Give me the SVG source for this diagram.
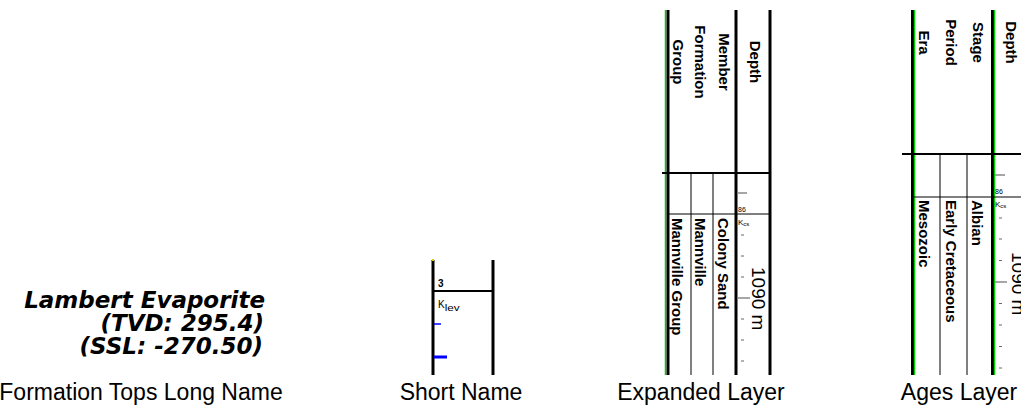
<svg xmlns="http://www.w3.org/2000/svg" width="1021" height="409" viewBox="0 0 1021 409">
<style>
text{font-family:"Liberation Sans",Arial,sans-serif;fill:#000}
.cap{font-size:23px;text-anchor:middle}
.hdr{font-size:15px;font-weight:bold}
.big{font-size:19px}
.tiny{font-size:7px}
.sm{font-size:10px}
.ft{font-family:"DejaVu Sans",Verdana,sans-serif;font-size:23px;font-weight:bold;font-style:italic;text-anchor:end}
.thick{stroke:#000;stroke-width:3}
.mid{stroke:#000;stroke-width:2}
.green{stroke:#00d000;stroke-width:1.5}
.thin{stroke:#000;stroke-width:1}
.tick{stroke:#888;stroke-width:1.5}
.minor{stroke:#666;stroke-width:1}
.ma{text-anchor:middle}
</style>
<rect width="1021" height="409" fill="#fff"/>

<g id="formation-tops-long-name">
  <text class="ft" x="265" y="308">Lambert Evaporite</text>
  <text class="ft" x="264" y="331">(TVD: 295.4)</text>
  <text class="ft" x="263" y="354">(SSL: -270.50)</text>
  <text class="cap" x="141" y="400">Formation Tops Long Name</text>
</g>

<g id="short-name">
  <line class="thick" x1="433" y1="260" x2="433" y2="375"/>
  <line class="thick" x1="493" y1="260" x2="493" y2="375"/>
  <line class="mid" x1="433" y1="291" x2="493" y2="291"/>
  <rect x="432" y="259" width="2" height="2" fill="#e0d000"/>
  <text class="sm" x="438" y="287" font-weight="bold">3</text>
  <text class="sm" x="438" y="308">K<tspan font-size="9" dy="3" textLength="15" lengthAdjust="spacingAndGlyphs">lev</tspan></text>
  <line stroke="#0000ff" stroke-width="1.5" x1="434" y1="324" x2="441" y2="324"/>
  <line stroke="#0000ff" stroke-width="3" x1="434" y1="357" x2="447" y2="357"/>
  <text class="cap" x="461" y="400">Short Name</text>
</g>

<g id="expanded-layer">
  <line class="green" x1="665.5" y1="10" x2="665.5" y2="375"/>
  <line class="thick" x1="668" y1="10" x2="668" y2="375"/>
  <line class="thick" x1="736" y1="10" x2="736" y2="375"/>
  <line class="thick" x1="770" y1="10" x2="770" y2="375"/>
  <line class="mid" x1="662" y1="173" x2="771" y2="173"/>
  <line class="thin" x1="691" y1="173" x2="691" y2="375"/>
  <line class="thin" x1="713" y1="173" x2="713" y2="375"/>
  <line class="thin" x1="668" y1="214" x2="770" y2="214"/>
  <text class="hdr ma" transform="translate(673,62) rotate(90)">Group</text>
  <text class="hdr ma" transform="translate(695,62) rotate(90)">Formation</text>
  <text class="hdr ma" transform="translate(718.5,62) rotate(90)">Member</text>
  <text class="hdr ma" transform="translate(750,62) rotate(90)">Depth</text>
  <text class="hdr" transform="translate(672,218) rotate(90)">Mannville Group</text>
  <text class="hdr" transform="translate(694.5,218) rotate(90)">Mannville</text>
  <text class="hdr" transform="translate(718,218) rotate(90)">Colony Sand</text>
  <text class="big" transform="translate(752,267) rotate(90)">1090 m</text>
  <text class="tiny" x="738" y="212">86</text>
  <text class="tiny" x="738" y="225"><tspan font-size="8">K</tspan><tspan font-size="6" dy="1">cs</tspan></text>
  <line class="tick" x1="737" y1="193" x2="747" y2="193"/>
  <line class="tick" x1="737" y1="298" x2="750" y2="298"/>
  <g class="minor">
    <line x1="741" y1="235" x2="744" y2="235"/>
    <line x1="741" y1="256" x2="744" y2="256"/>
    <line x1="741" y1="277" x2="744" y2="277"/>
    <line x1="741" y1="319" x2="744" y2="319"/>
    <line x1="741" y1="340" x2="744" y2="340"/>
    <line x1="741" y1="361" x2="744" y2="361"/>
  </g>
  <text class="cap" x="701" y="400">Expanded Layer</text>
</g>

<g id="ages-layer">
  <line class="thick" x1="912.5" y1="10" x2="912.5" y2="375"/>
  <line class="green" x1="914.5" y1="10" x2="914.5" y2="375"/>
  <line class="thick" x1="992.5" y1="10" x2="992.5" y2="375"/>
  <line class="green" x1="994.5" y1="10" x2="994.5" y2="375"/>
  <line class="mid" x1="902" y1="154" x2="1021" y2="154"/>
  <line class="thin" x1="940" y1="154" x2="940" y2="375"/>
  <line class="thin" x1="967" y1="154" x2="967" y2="375"/>
  <line class="thin" x1="914" y1="197" x2="1021" y2="197"/>
  <text class="hdr ma" transform="translate(918.5,42.5) rotate(90)">Era</text>
  <text class="hdr ma" transform="translate(946,42.5) rotate(90)">Period</text>
  <text class="hdr ma" transform="translate(972.5,42.5) rotate(90)">Stage</text>
  <text class="hdr ma" transform="translate(1006,42.5) rotate(90)">Depth</text>
  <text class="hdr" transform="translate(919,200) rotate(90)">Mesozoic</text>
  <text class="hdr" transform="translate(946,200) rotate(90)">Early Cretaceous</text>
  <text class="hdr" transform="translate(971.5,200) rotate(90)">Albian</text>
  <text class="big" transform="translate(1012,252) rotate(90)">1090 m</text>
  <text class="tiny" x="995" y="194">86</text>
  <text class="tiny" x="995" y="207"><tspan font-size="8">K</tspan><tspan font-size="6" dy="1">cs</tspan></text>
  <line class="tick" x1="995" y1="175" x2="1005" y2="175"/>
  <line class="tick" x1="995" y1="282" x2="1007" y2="282"/>
  <g class="minor">
    <line x1="999" y1="218" x2="1002" y2="218"/>
    <line x1="999" y1="239" x2="1002" y2="239"/>
    <line x1="999" y1="260.5" x2="1002" y2="260.5"/>
    <line x1="999" y1="303.5" x2="1002" y2="303.5"/>
    <line x1="999" y1="325" x2="1002" y2="325"/>
    <line x1="999" y1="346.5" x2="1002" y2="346.5"/>
    <line x1="999" y1="368" x2="1002" y2="368"/>
  </g>
  <text class="cap" x="959" y="400">Ages Layer</text>
</g>
</svg>
